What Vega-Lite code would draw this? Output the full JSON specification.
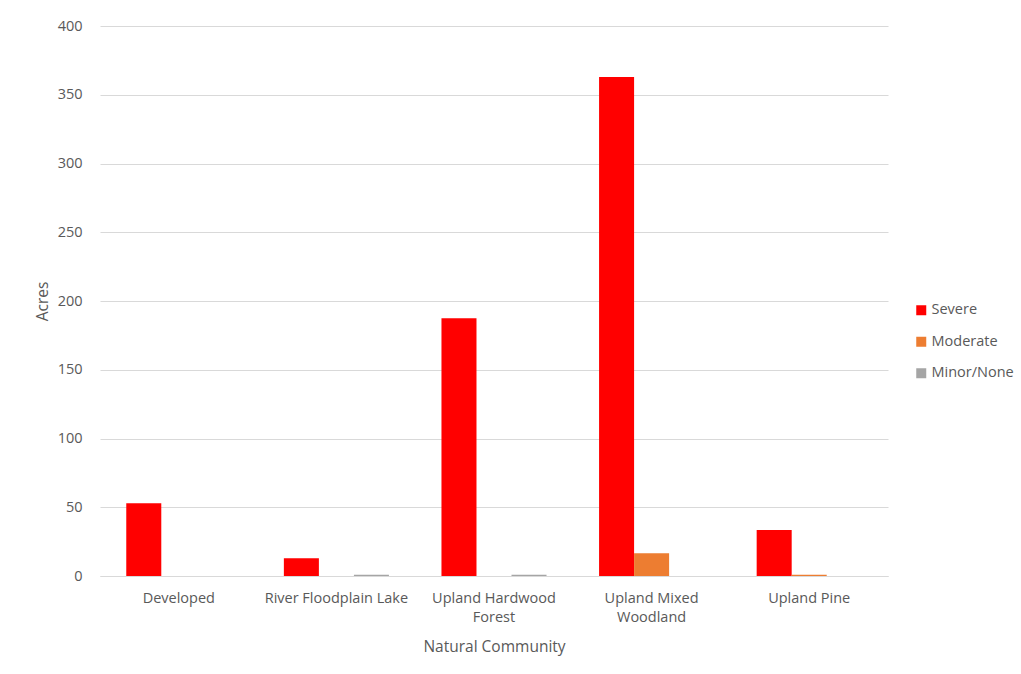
{
  "$schema": "https://vega.github.io/schema/vega-lite/v6.json",
  "width": 788,
  "height": 550,
  "autosize": {"type": "none"},
  "padding": {"left": 100, "top": 26, "right": 133, "bottom": 98},
  "background": "white",
  "config": {
    "font": "Open Sans",
    "view": {"stroke": null},
    "axis": {
      "labelColor": "#595959",
      "titleColor": "#595959",
      "labelFontSize": 14.5,
      "titleFontSize": 15.5,
      "titleFontWeight": "normal",
      "ticks": false
    },
    "legend": {
      "labelColor": "#595959",
      "labelFontSize": 14.5
    }
  },
  "data": {
    "values": [
      {"community": "Developed", "damage": "Severe", "acres": 53},
      {"community": "Developed", "damage": "Moderate", "acres": 0},
      {"community": "Developed", "damage": "Minor/None", "acres": 0},
      {"community": "River Floodplain Lake", "damage": "Severe", "acres": 13},
      {"community": "River Floodplain Lake", "damage": "Moderate", "acres": 0},
      {"community": "River Floodplain Lake", "damage": "Minor/None", "acres": 1},
      {"community": "Upland Hardwood Forest", "damage": "Severe", "acres": 187.5},
      {"community": "Upland Hardwood Forest", "damage": "Moderate", "acres": 0},
      {"community": "Upland Hardwood Forest", "damage": "Minor/None", "acres": 1},
      {"community": "Upland Mixed Woodland", "damage": "Severe", "acres": 363},
      {"community": "Upland Mixed Woodland", "damage": "Moderate", "acres": 16.5},
      {"community": "Upland Mixed Woodland", "damage": "Minor/None", "acres": 0},
      {"community": "Upland Pine", "damage": "Severe", "acres": 33.5},
      {"community": "Upland Pine", "damage": "Moderate", "acres": 1},
      {"community": "Upland Pine", "damage": "Minor/None", "acres": 0}
    ]
  },
  "mark": {"type": "bar"},
  "encoding": {
    "x": {
      "field": "community",
      "type": "nominal",
      "sort": ["Developed", "River Floodplain Lake", "Upland Hardwood Forest", "Upland Mixed Woodland", "Upland Pine"],
      "scale": {"paddingInner": 0, "paddingOuter": 0},
      "axis": {
        "title": "Natural Community",
        "labelAngle": 0,
        "labelPadding": 15,
        "labelLineHeight": 19,
        "labelExpr": "datum.label == 'Upland Hardwood Forest' ? ['Upland Hardwood', 'Forest'] : datum.label == 'Upland Mixed Woodland' ? ['Upland Mixed', 'Woodland'] : datum.label",
        "domainColor": "#d9d9d9",
        "domainWidth": 1,
        "titlePadding": 16
      }
    },
    "xOffset": {
      "field": "damage",
      "type": "nominal",
      "sort": ["Severe", "Moderate", "Minor/None"],
      "scale": {"paddingInner": 0, "paddingOuter": 0.75}
    },
    "y": {
      "field": "acres",
      "type": "quantitative",
      "scale": {"domain": [0, 400], "nice": false},
      "axis": {
        "title": "Acres",
        "values": [0, 50, 100, 150, 200, 250, 300, 350, 400],
        "domain": false,
        "grid": true,
        "gridColor": "#d9d9d9",
        "labelPadding": 18,
        "titlePadding": 7
      }
    },
    "color": {
      "field": "damage",
      "type": "nominal",
      "scale": {
        "domain": ["Severe", "Moderate", "Minor/None"],
        "range": ["#ff0000", "#ed7d31", "#a5a5a5"]
      },
      "legend": {
        "title": null,
        "orient": "none",
        "legendX": 814,
        "legendY": 277,
        "symbolType": "square",
        "symbolSize": 100,
        "symbolStrokeWidth": 0,
        "rowPadding": 16.5,
        "labelOffset": 3
      }
    }
  }
}
